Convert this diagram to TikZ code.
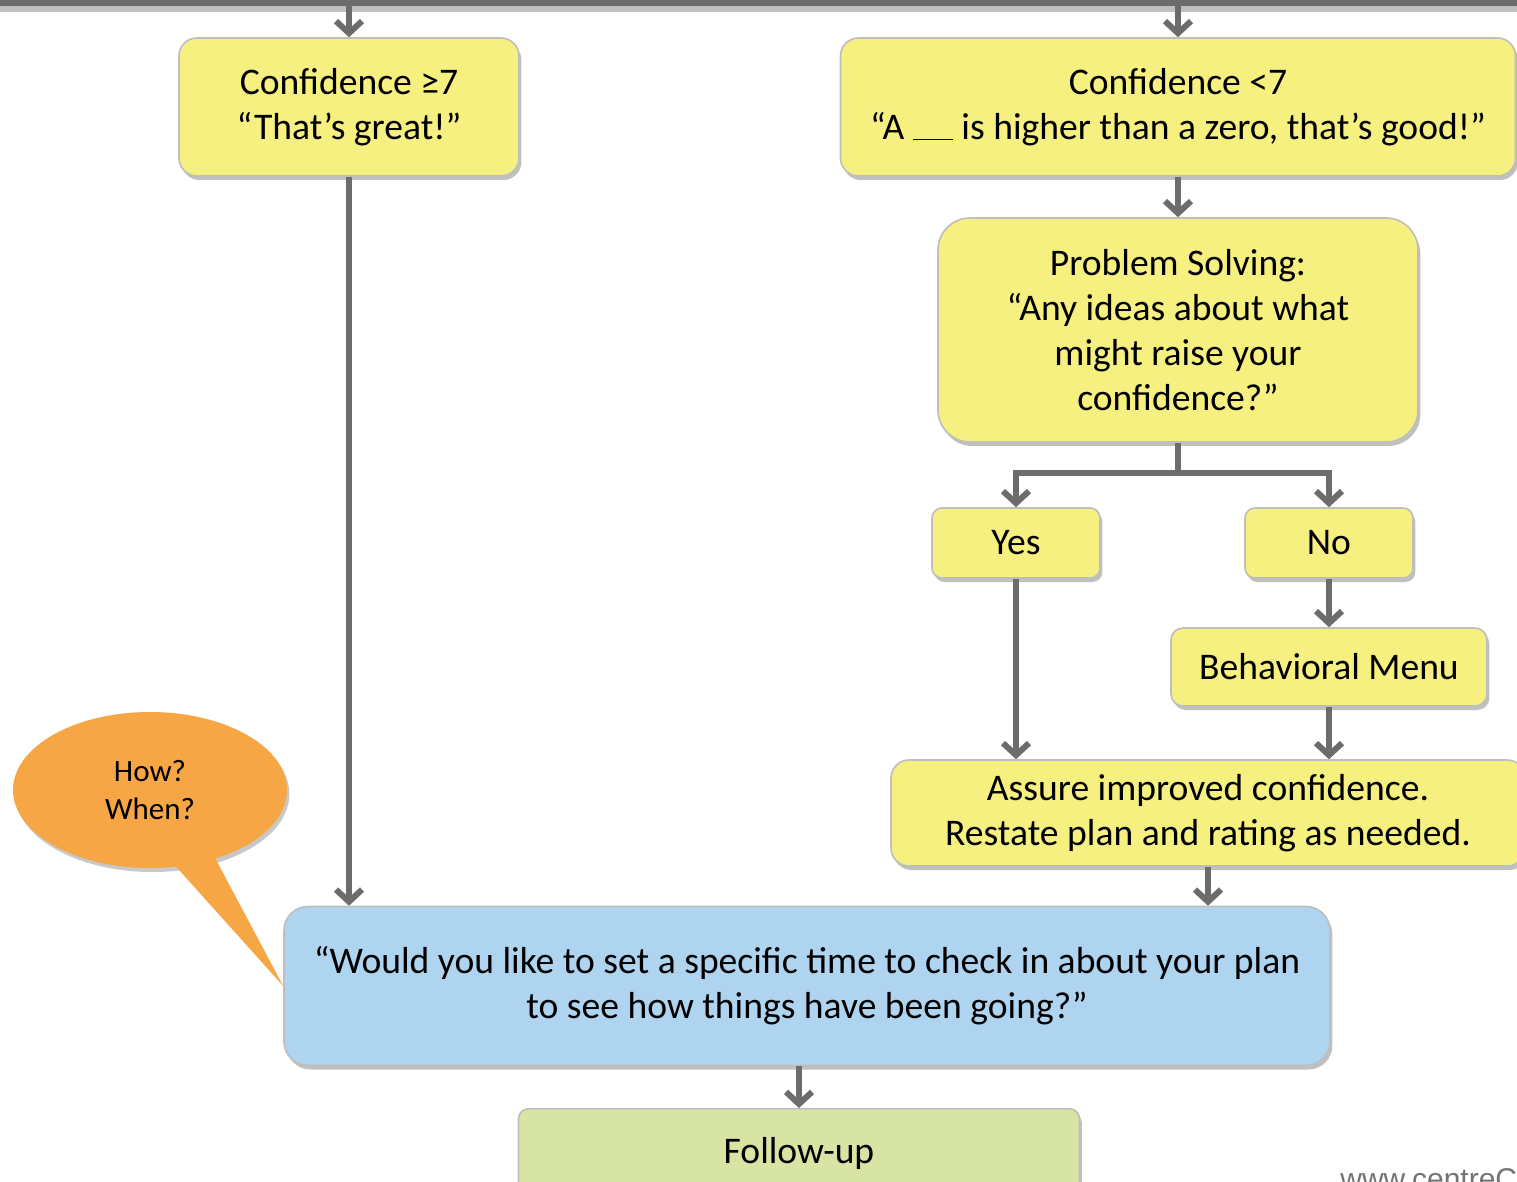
\documentclass[tikz,border=0pt]{standalone}
\usepackage{fontspec}
\setmainfont{Carlito}
\newfontfamily\webfont{Liberation Sans}
\usetikzlibrary{arrows.meta,shapes.geometric,shadows,calc}
\definecolor{boxyellow}{RGB}{245,240,128}
\definecolor{boxblue}{RGB}{174,212,240}
\definecolor{boxgreen}{RGB}{215,228,163}
\definecolor{bubbleorange}{RGB}{247,166,69}
\definecolor{boxline}{RGB}{190,190,190}
\definecolor{linkgray}{RGB}{108,108,108}

\begin{document}
\begin{tikzpicture}[x=0.5pt,y=-0.5pt,
    box/.style={draw=boxline, line width=0.8pt, fill=boxyellow, rounded corners=9pt,
      align=center, inner sep=0pt, font=\fontsize{18.8}{22.5}\selectfont,
      drop shadow={shadow xshift=1.2pt, shadow yshift=-2pt, opacity=.35, fill=black!70}},
    link/.style={draw=linkgray, line width=3pt, -{Straight Barb[length=6pt,width=13pt]}},
    trunk/.style={draw=linkgray, line width=3pt}]
  \useasboundingbox (0,0) rectangle (1517,1182);
  \fill[white] (0,0) rectangle (1517,1182);
  \draw[line width=5pt, black!25] (0,7) -- (1517,7);
  \draw[line width=3pt, linkgray] (0,3) -- (1517,3);
  \coordinate (topA) at (349,3);
  \coordinate (topB) at (1178,3);
  \coordinate (fork) at (1178,473);

  \node[box, minimum width=170pt, minimum height=69pt] (high) at (349,107)
    {Confidence ≥7\\“That’s great!”};
  \node[box, minimum width=337.5pt, minimum height=69pt] (low) at (1178,107)
    {Confidence <7\\“A \rule[-0.5pt]{20pt}{0.7pt} is higher than a zero, that’s good!”};
  \node[box, rounded corners=16pt, minimum width=240pt, minimum height=112pt] (solve) at (1178,330)
    {Problem Solving:\\“Any ideas about what\\might raise your\\confidence?”};
  \node[box, rounded corners=5pt, minimum width=84pt, minimum height=35pt] (yes) at (1016,543) {Yes};
  \node[box, rounded corners=5pt, minimum width=84pt, minimum height=35pt] (no) at (1329,543) {No};
  \node[box, rounded corners=6pt, minimum width=158pt, minimum height=39pt] (menu) at (1329,667)
    {Behavioral Menu};
  \node[box, minimum width=317pt, minimum height=53pt] (assure) at (1208,813)
    {Assure improved confidence.\\Restate plan and rating as needed.};
  \node[box, fill=boxblue, rounded corners=12pt, minimum width=523pt, minimum height=79.5pt] (ask) at (807,986)
    {“Would you like to set a specific time to check in about your plan\\to see how things have been going?”};
  \node[box, fill=boxgreen, rounded corners=5pt, minimum width=280.5pt, minimum height=45pt, anchor=north] (follow) at (799,1108)
    {Follow-up};

  \node[ellipse, fill=bubbleorange, minimum width=137pt, minimum height=78pt, inner sep=0pt,
    align=center, font=\fontsize{15.5}{19}\selectfont,
    drop shadow={shadow xshift=1.2pt, shadow yshift=-2pt, opacity=.3, fill=black!70}] (bubble) at (150,790)
    {How?\\When?};
  \fill[bubbleorange] ($(bubble.center)!0.85!(bubble.-76)$) -- (ask.west) -- ($(bubble.center)!0.85!(bubble.-44)$) -- cycle;

  \node[anchor=north west, inner sep=0pt, text=black!55, font=\webfont\fontsize{15}{15}\selectfont] (web) at (1340,1167)
    {www.centreCl};

  \draw[link] (topA) -- (high.north);
  \draw[link] (topB) -- (low.north);
  \draw[link] (low.south) -- (solve.north);
  \draw[trunk] (solve.south) -- (fork);
  \draw[link] (fork) -| (yes.north);
  \draw[link] (fork) -| (no.north);
  \draw[link] (no.south) -- (menu.north);
  \draw[link] (yes.south) -- (yes.south |- assure.north);
  \draw[link] (menu.south) -- (menu.south |- assure.north);
  \draw[link] (assure.south) -- (assure.south |- ask.north);
  \draw[link] (high.south) -- (high.south |- ask.north);
  \draw[link] (follow.north |- ask.south) -- (follow.north);
\end{tikzpicture}
\end{document}
